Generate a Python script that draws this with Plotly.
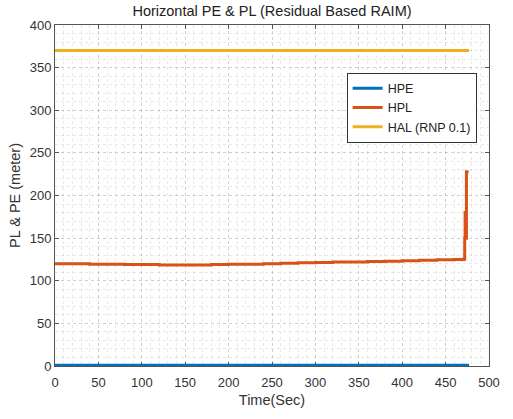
import plotly.graph_objects as go

time_hpl = [0, 20, 40, 60, 80, 100, 120, 140, 160, 180, 200, 220, 240, 260, 280, 300,
            320, 340, 360, 380, 400, 420, 440, 460, 471, 472, 472.5, 473, 474, 476.5]
hpl = [120, 120, 119.5, 119.5, 119, 119, 118.5, 118.5, 118.5, 119, 119.5, 119.5, 120, 120.5, 121,
       121.5, 122, 122, 122.5, 123, 123.5, 124, 124.5, 125, 125.5, 150, 180, 150, 228, 228]
time_hpe = [0, 100, 200, 300, 400, 477]
hpe = [1, 1, 1, 1, 1, 1]
time_hal = [0, 477]
hal = [370, 370]

x_ticks = [0, 50, 100, 150, 200, 250, 300, 350, 400, 450, 500]
y_ticks = [0, 50, 100, 150, 200, 250, 300, 350, 400]

FONT = "Liberation Sans, Arial"

fig = go.Figure()
fig.add_trace(go.Scatter(x=time_hpe, y=hpe, mode="lines", name="HPE",
                         line=dict(color="#0072BD", width=3)))
fig.add_trace(go.Scatter(x=time_hpl, y=hpl, mode="lines", name="HPL",
                         line=dict(color="#D95319", width=3, shape="hv")))
fig.add_trace(go.Scatter(x=time_hal, y=hal, mode="lines", name="HAL (RNP 0.1)",
                         line=dict(color="#EDB120", width=3)))

axis_common = dict(
    showline=True, linecolor="#555555", linewidth=1, mirror="ticks",
    ticks="inside", ticklen=4, tickcolor="#555555", automargin=False,
    showgrid=True, gridcolor="rgba(0,0,0,0.10)", griddash="dot", zeroline=False,
    tickfont=dict(family=FONT, size=13, color="#333333"),
)

fig.update_layout(
    width=513, height=419,
    margin=dict(l=55, r=24, t=25, b=53),
    paper_bgcolor="white", plot_bgcolor="white",
    title=dict(text="Horizontal PE & PL (Residual Based RAIM)", x=0.5, xanchor="center",
               xref="paper", y=0.975, yanchor="middle",
               font=dict(family=FONT, size=14.5, color="#222222")),
    xaxis=dict(range=[0, 500], tickvals=x_ticks, ticklabelstandoff=4,
               title=dict(text="Time(Sec)", standoff=6,
                          font=dict(family=FONT, size=14.5, color="#333333")),
               minor=dict(dtick=10, showgrid=True, gridcolor="rgba(0,0,0,0.09)", griddash="dot"),
               **axis_common),
    yaxis=dict(range=[0, 400], tickvals=y_ticks,
               title=dict(text="PL & PE (meter)", standoff=5,
                          font=dict(family=FONT, size=14.5, color="#333333")),
               minor=dict(dtick=10, showgrid=True, gridcolor="rgba(0,0,0,0.09)", griddash="dot"),
               **axis_common),
    legend=dict(x=0.672, y=0.86, xanchor="left", yanchor="top",
                bgcolor="white", bordercolor="#333333", borderwidth=1,
                font=dict(family=FONT, size=12.5, color="#222222"),
                tracegroupgap=0, itemwidth=30),
    showlegend=True,
)

fig.write_html("out.html", config={"displayModeBar": False},
               post_script="document.body.style.margin='0';")
